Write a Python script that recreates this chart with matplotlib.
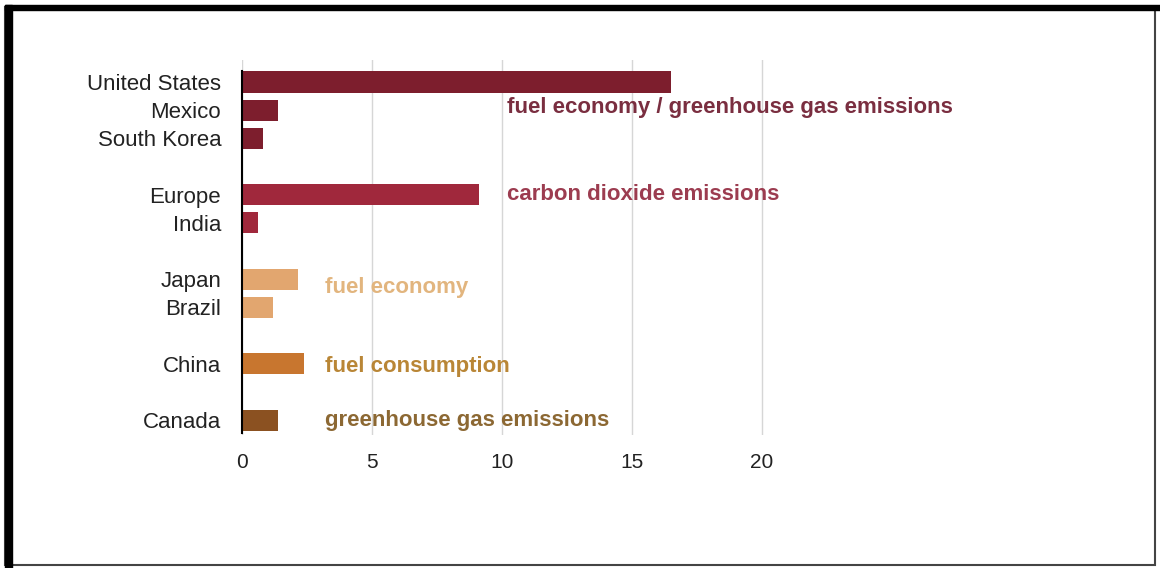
import matplotlib.pyplot as plt
from matplotlib.patches import Rectangle

plt.rcParams['font.family'] = ['Liberation Sans', 'DejaVu Sans']

countries = ['United States', 'Mexico', 'South Korea', 'Europe', 'India',
             'Japan', 'Brazil', 'China', 'Canada']
values = [16.5, 1.4, 0.8, 9.1, 0.6, 2.15, 1.2, 2.4, 1.4]
groups = [0, 0, 0, 1, 1, 2, 2, 3, 4]

group_names = ['fuel economy / greenhouse gas emissions', 'carbon dioxide emissions',
               'fuel economy', 'fuel consumption', 'greenhouse gas emissions']
bar_colors = ['#7d1e2d', '#a0283c', '#e2a66f', '#c8762f', '#8b5121']
text_colors = ['#7a2e40', '#9c3c50', '#e2b57e', '#b98636', '#8c6833']

# slot of each bar (one empty slot between groups)
slots = []
s = 0
for i, g in enumerate(groups):
  if i > 0 and g != groups[i - 1]:
    s += 1
  slots.append(s)
  s += 1

fig = plt.figure(figsize=(11.6, 5.68), dpi=100)
ax = fig.add_axes([242 / 1160, 1 - 435 / 568, 650 / 1160, 375 / 568])

ax.barh(slots, values, height=0.75, color=[bar_colors[g] for g in groups], zorder=2)

ax.set_xlim(0, 25)
ax.set_ylim(12.53, -0.78)
ax.set_xticks([0, 5, 10, 15, 20])
ax.set_yticks(slots)
ax.set_yticklabels(countries)
ax.tick_params(axis='both', length=0, colors='#222222')
ax.tick_params(axis='y', pad=15, labelsize=16)
ax.tick_params(axis='x', pad=13, labelsize=15)
ax.grid(axis='x', color='#d6d6d6', linewidth=1, zorder=0)
for side in ['top', 'right', 'bottom']:
  ax.spines[side].set_visible(False)
ax.spines['left'].set_color('black')
ax.spines['left'].set_linewidth(1.5)
ax.spines['left'].set_bounds(-0.4, 12.45)
ax.set_axisbelow(True)

# group labels
label_pos = [(10.2, 0.92), (10.2, 4.0), (3.2, 7.3), (3.2, 10.1), (3.2, 12.0)]
for name, col, (x, y) in zip(group_names, text_colors, label_pos):
  ax.text(x, y, name, color=col, fontsize=16, fontweight='bold', va='center', ha='left')

# frame around the picture
fig.patches.append(Rectangle((5 / 1160, 3 / 568), 1150 / 1160, 558 / 568,
                             transform=fig.transFigure, fill=False,
                             edgecolor='#444444', linewidth=1.5))
fig.patches.append(Rectangle((5 / 1160, 0), 7 / 1160, 563 / 568,
                             transform=fig.transFigure, color='black'))
fig.patches.append(Rectangle((5 / 1160, 558 / 568), 1155 / 1160, 5 / 568,
                             transform=fig.transFigure, color='black'))

fig.savefig('out.png', dpi=100)
